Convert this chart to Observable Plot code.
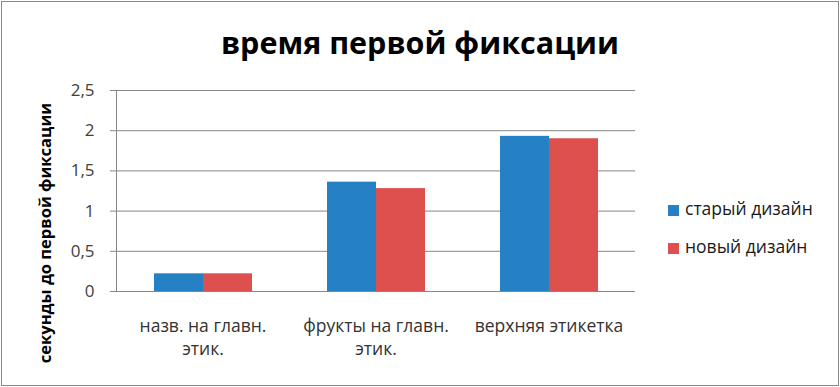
<!DOCTYPE html>
<html>
<head>
<meta charset="utf-8">
<script src="https://cdn.jsdelivr.net/npm/d3@7"></script>
<script src="https://cdn.jsdelivr.net/npm/@observablehq/plot@0.6"></script>
<style>
  html, body { margin: 0; padding: 0; background: #fff; }
  #chart { position: relative; width: 840px; height: 387px; overflow: hidden; font-family: "Open Sans", "Liberation Sans", sans-serif; }
  #chart svg { position: absolute; left: 0; top: 0; }
  #border { position: absolute; left: 1px; top: 1px; width: 836px; height: 383px; border: 1px solid #8a8a8a; box-sizing: content-box; pointer-events: none; }
  #title { position: absolute; left: 0; width: 840px; top: 24px; text-align: center; font-weight: bold; font-size: 30.5px; line-height: 36px; color: #000; }
  #ylabel { position: absolute; left: 44px; top: 233px; transform: translate(-50%, -50%) rotate(-90deg); white-space: nowrap; font-weight: bold; font-size: 16.5px; color: #000; }
  .leg { position: absolute; left: 668px; font-size: 17.5px; line-height: 24px; color: #1a1a1a; white-space: nowrap; }
  .leg span.sw { display: inline-block; width: 11px; height: 11px; margin-right: 6px; vertical-align: -1px; }
</style>
</head>
<body>
<div id="chart"></div>
<script>
const categories = ["назв. на главн. этик.", "фрукты на главн. этик.", "верхняя этикетка"];
const tickLabels = ["назв. на главн.\nэтик.", "фрукты на главн.\nэтик.", "верхняя этикетка"];
const series = ["старый дизайн", "новый дизайн"];
const oldDesign = [0.22, 1.36, 1.93];
const newDesign = [0.22, 1.28, 1.90];
const colors = ["#2581c4", "#dd504e"];
const yTicks = [0, 0.5, 1, 1.5, 2, 2.5];
const title = "время первой фиксации";
const yLabel = "секунды до первой фиксации";

const rows = [];
categories.forEach((c, i) => {
  rows.push({category: c, series: series[0], value: oldDesign[i]});
  rows.push({category: c, series: series[1], value: newDesign[i]});
});
const labelOf = new Map(categories.map((c, i) => [c, tickLabels[i]]));

const plot = Plot.plot({
  width: 840,
  height: 387,
  marginLeft: 115,
  marginRight: 205,
  marginTop: 90,
  marginBottom: 96,
  style: {fontFamily: '"Open Sans", "Liberation Sans", sans-serif', background: "transparent"},
  fx: {domain: categories, padding: 0, label: null},
  x: {domain: series, paddingInner: 0, paddingOuter: 0.76, axis: null},
  y: {domain: [0, 2.5]},
  color: {domain: series, range: colors},
  marks: [
    Plot.gridY(yTicks, {stroke: "#868686", strokeOpacity: 1, strokeWidth: 1}),
    Plot.barY(rows, {fx: "category", x: "series", y: "value", fill: "series"}),
    Plot.frame({anchor: "left", stroke: "#868686", facetAnchor: "left"}),
    Plot.axisY({ticks: yTicks, tickFormat: d => String(d).replace(".", ","), tickSize: 6, tickPadding: 16, fontSize: 17, color: "#404040", stroke: "#868686", label: null}),
    Plot.axisFx({anchor: "bottom", tickSize: 0, tickPadding: 25, fontSize: 17.5, color: "#333", lineHeight: 1.28, tickFormat: d => labelOf.get(d), label: null})
  ]
});

const chart = document.getElementById("chart");
chart.appendChild(plot);

const t = document.createElement("div");
t.id = "title"; t.textContent = title; chart.appendChild(t);

const yl = document.createElement("div");
yl.id = "ylabel"; yl.textContent = yLabel; chart.appendChild(yl);

series.forEach((s, i) => {
  const d = document.createElement("div");
  d.className = "leg";
  d.style.top = (196 + i * 38) + "px";
  const sw = document.createElement("span");
  sw.className = "sw"; sw.style.background = colors[i];
  d.appendChild(sw);
  d.appendChild(document.createTextNode(s));
  chart.appendChild(d);
});

const b = document.createElement("div");
b.id = "border"; chart.appendChild(b);
</script>
</body>
</html>
